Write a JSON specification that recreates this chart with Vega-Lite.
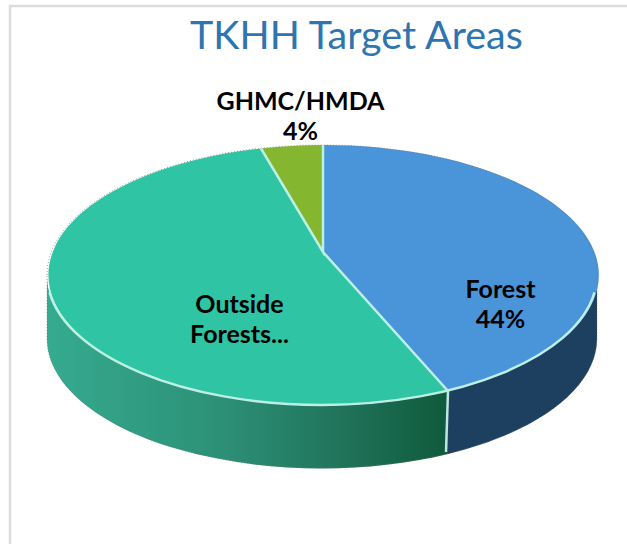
{
 "$schema":"https://vega.github.io/schema/vega-lite/v6.json",
 "width":627,"height":544,"padding":0,"autosize":"none",
 "background":"white",
 "view":{"stroke":null},
 "title":{"text":"TKHH Target Areas","font":"Lato","fontSize":39.5,"fontWeight":"normal","color":"#2E75B0","anchor":"start","frame":"group","dx":190,"dy":50,"offset":-46,"baseline":"bottom"},
 "data":{"values":[
  {"slice":"Forest","share":44,"label":"Forest\n44%"},
  {"slice":"Outside Forests","share":52,"label":"Outside\nForests..."},
  {"slice":"GHMC/HMDA","share":4,"label":"GHMC/HMDA\n4%"}
 ]},
 "layer":[
  {"data":{"values":[{"part":"frame"}]},
   "mark":{"type":"point","filled":false,"size":4,"stroke":"#DCDCDC","strokeWidth":2.5,"opacity":1,"shape":"M-303.5,272 L-303.5,-266 L313.5,-266"}},
  {"transform":[{"filter":"datum.slice==='Forest'"}],
   "mark":{"type":"point","filled":true,"size":4,"opacity":1,"fill":"#1D3F60","shape":"M134.5,119 A275,130 0 0 0 283.5,3 L283.5,66 A275,130 0 0 1 134.5,182 Z"}},
  {"transform":[{"filter":"datum.slice==='Outside Forests'"}],
   "mark":{"type":"point","filled":true,"size":4,"opacity":1,
    "fill":{"gradient":"linear","x1":0,"y1":0,"x2":1,"y2":0,"stops":[{"offset":0,"color":"#35AB8F"},{"offset":0.45,"color":"#2C8F76"},{"offset":0.75,"color":"#1F7258"},{"offset":1,"color":"#0F5A3D"}]},
    "shape":"M-266.5,3 A275,130 0 0 0 134.5,119 L134.5,182 A275,130 0 0 1 -266.5,66 Z"}},
  {"data":{"values":[{"part":"divider"}]},
   "mark":{"type":"point","filled":false,"size":4,"stroke":"#BFE6DF","strokeWidth":2.5,"opacity":1,"shape":"M134.5,119 L132.5,180"}},
  {"mark":{"type":"point","filled":true,"size":4,"opacity":1},
   "encoding":{
    "color":{"field":"slice","type":"nominal","legend":null,"scale":{"domain":["Forest","Outside Forests","GHMC/HMDA"],"range":["#4A94DA","#2EC4A4","#84B62F"]}},
    "shape":{"field":"slice","type":"nominal","legend":null,"scale":{"domain":["Forest","Outside Forests","GHMC/HMDA"],"range":[
      "M9.5,-20 L9.5,-127 A275,130 0 0 1 134.5,119 Z",
      "M9.5,-20 L134.5,119 A275,130 0 1 1 -52.5,-123.5 Z",
      "M9.5,-20 L-52.5,-123.5 A275,130 0 0 1 9.5,-127 Z"]}}
   }},
  {"data":{"values":[{"part":"outline"}]},
   "mark":{"type":"point","filled":false,"size":4,"stroke":"#777777","strokeWidth":1,"strokeDash":[1,2],"opacity":0.7,"shape":"M-266.5,3 A275,130 0 0 1 283.5,3 L283.5,66 A275,130 0 0 1 -266.5,66 Z"}},
  {"data":{"values":[{"part":"rim"}]},
   "mark":{"type":"point","filled":false,"size":4,"stroke":"#BDF0E4","strokeWidth":2.5,"opacity":1,"shape":"M9.5,-127 L9.5,-20 L-52.5,-123.5 M9.5,-20 L134.5,119 M-264,20.4 A275,130 0 0 0 281,20.4"}},
  {"transform":[{"filter":"datum.slice==='Forest'"}],
   "mark":{"type":"text","lineBreak":"\n","font":"Lato","fontSize":25,"fontWeight":"bold","lineHeight":30,"color":"black","dx":187,"dy":18},
   "encoding":{"text":{"field":"label"}}},
  {"transform":[{"filter":"datum.slice==='Outside Forests'"}],
   "mark":{"type":"text","lineBreak":"\n","font":"Lato","fontSize":25,"fontWeight":"bold","lineHeight":30,"color":"black","dx":-74,"dy":33},
   "encoding":{"text":{"field":"label"}}},
  {"transform":[{"filter":"datum.slice==='GHMC/HMDA'"}],
   "mark":{"type":"text","lineBreak":"\n","font":"Lato","fontSize":25,"fontWeight":"bold","lineHeight":30,"color":"black","dx":-13,"dy":-170},
   "encoding":{"text":{"field":"label"}}}
 ]
}
